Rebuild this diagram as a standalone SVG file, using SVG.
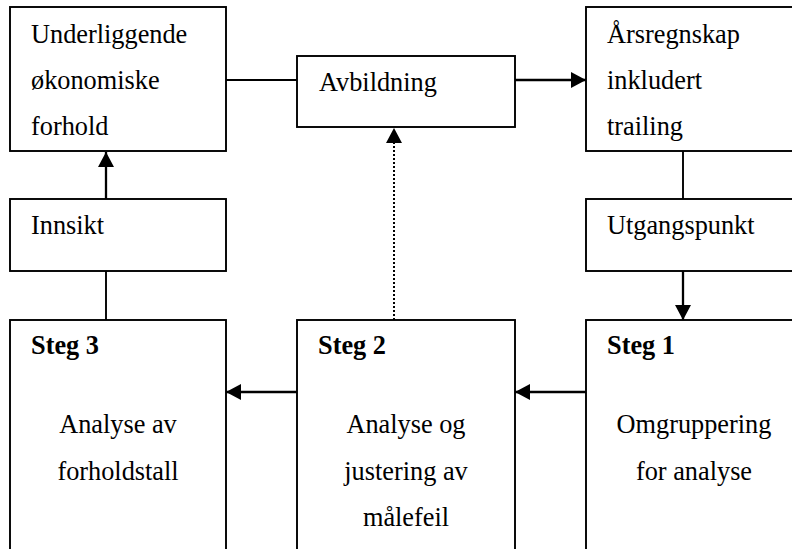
<svg xmlns="http://www.w3.org/2000/svg" width="792" height="549" viewBox="0 0 792 549">
  <style>
    .box { fill: #fff; stroke: #000; stroke-width: 1.9; }
    text { font-family: 'Liberation Serif', 'Times New Roman', 'DejaVu Serif', serif; font-size: 26.3px; fill: #000; }
    .b { font-weight: bold; }
    .mid { text-anchor: middle; }
    .line { fill: none; stroke: #000; stroke-width: 1.9; }
    .arrow { fill: none; stroke: #000; stroke-width: 2.3; marker-end: url(#head); }
    .dots { fill: none; stroke: #000; stroke-width: 2; stroke-dasharray: 2 2; marker-end: url(#head); }
  </style>
  <defs>
    <!-- solid triangular arrowhead shared by all directed connectors -->
    <marker id="head" viewBox="0 0 15 16" refX="15" refY="8" markerWidth="15" markerHeight="16" markerUnits="userSpaceOnUse" orient="auto">
      <path d="M0,0 L15,8 L0,16 Z" fill="#000"/>
    </marker>
  </defs>
  <rect width="792" height="549" fill="#fff"/>

  <g id="connectors">
    <line class="line" x1="226" y1="80" x2="297" y2="80"/>
    <line class="arrow" x1="515" y1="80" x2="586" y2="80"/>
    <line class="line" x1="683" y1="151" x2="683" y2="199"/>
    <line class="arrow" x1="683" y1="271" x2="683" y2="320"/>
    <line class="arrow" x1="586" y1="392" x2="515" y2="392"/>
    <line class="arrow" x1="297" y1="392" x2="226" y2="392"/>
    <line class="line" x1="106" y1="320" x2="106" y2="271"/>
    <line class="arrow" x1="106" y1="199" x2="106" y2="152"/>
    <line class="dots" x1="394" y1="320" x2="394" y2="128"/>
  </g>

  <g id="underliggende">
    <rect class="box" x="10" y="7" width="216" height="144"/>
    <text x="31" y="43">Underliggende</text>
    <text x="31" y="89">økonomiske</text>
    <text x="31" y="135">forhold</text>
  </g>

  <g id="avbildning">
    <rect class="box" x="297" y="56" width="218" height="71"/>
    <text x="319" y="91">Avbildning</text>
  </g>

  <g id="arsregnskap">
    <rect class="box" x="586" y="7" width="216" height="144"/>
    <text x="607" y="43">Årsregnskap</text>
    <text x="607" y="89">inkludert</text>
    <text x="607" y="135">trailing</text>
  </g>

  <g id="innsikt">
    <rect class="box" x="10" y="199" width="216" height="72"/>
    <text x="31" y="234">Innsikt</text>
  </g>

  <g id="utgangspunkt">
    <rect class="box" x="586" y="199" width="216" height="72"/>
    <text x="607" y="234">Utgangspunkt</text>
  </g>

  <g id="steg3">
    <rect class="box" x="10" y="320" width="216" height="250"/>
    <text class="b" x="31" y="354">Steg 3</text>
    <text class="mid" x="118" y="433">Analyse av</text>
    <text class="mid" x="118" y="480">forholdstall</text>
  </g>

  <g id="steg2">
    <rect class="box" x="297" y="320" width="218" height="250"/>
    <text class="b" x="318" y="354">Steg 2</text>
    <text class="mid" x="406" y="433">Analyse og</text>
    <text class="mid" x="406" y="480">justering av</text>
    <text class="mid" x="406" y="526">målefeil</text>
  </g>

  <g id="steg1">
    <rect class="box" x="586" y="320" width="216" height="250"/>
    <text class="b" x="607" y="354">Steg 1</text>
    <text class="mid" x="694" y="433">Omgruppering</text>
    <text class="mid" x="694" y="480">for analyse</text>
  </g>
</svg>
